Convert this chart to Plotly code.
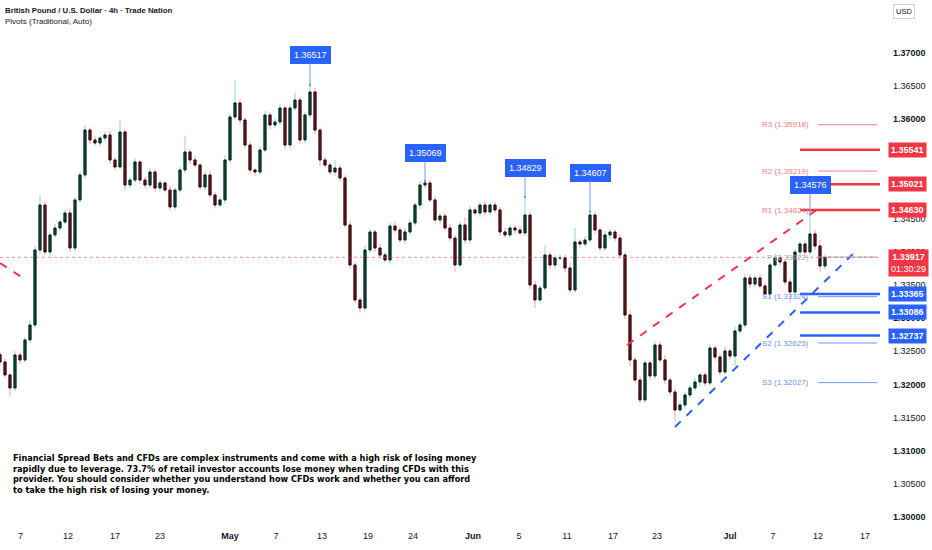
import plotly.graph_objects as go

# ---- datos (velas de 12h aprox.) ----
first_open = 1.32450
closes = [
    1.32339, 1.32143, 1.31947, 1.32444, 1.32369, 1.32671, 1.32897, 1.34028, 1.34707, 1.33998,
    1.34255, 1.34360, 1.34451, 1.34586, 1.34058, 1.34783, 1.35160, 1.35838, 1.35688, 1.35642,
    1.35718, 1.35763, 1.35386, 1.35280, 1.35808, 1.35009, 1.35084, 1.35356, 1.35084, 1.35009,
    1.35205, 1.34964, 1.35039, 1.34933, 1.34677, 1.34933, 1.35235, 1.35507, 1.35386, 1.35310,
    1.34979, 1.35160, 1.34858, 1.34707, 1.34783, 1.35386, 1.36035, 1.36246, 1.35989, 1.35612,
    1.35235, 1.35205, 1.35537, 1.36065, 1.35914, 1.35959, 1.36170, 1.35612, 1.36170, 1.36291,
    1.35688, 1.36065, 1.36412, 1.35838, 1.35386, 1.35310, 1.35205, 1.35265, 1.35114, 1.34405,
    1.33802, 1.33274, 1.33153, 1.34028, 1.34300, 1.34058, 1.33953, 1.33877, 1.34390, 1.34330,
    1.34179, 1.34300, 1.34436, 1.34707, 1.35009, 1.35039, 1.34783, 1.34481, 1.34541, 1.34360,
    1.34209, 1.33802, 1.34405, 1.34179, 1.34632, 1.34586, 1.34707, 1.34601, 1.34707, 1.34632,
    1.34300, 1.34255, 1.34360, 1.34330, 1.34285, 1.34556, 1.33500, 1.33274, 1.33455, 1.33953,
    1.33802, 1.33908, 1.33908, 1.33757, 1.33425, 1.34149, 1.34119, 1.34179, 1.34556, 1.34330,
    1.34058, 1.34255, 1.34300, 1.34209, 1.33953, 1.33048, 1.32369, 1.32067, 1.31766, 1.32324,
    1.32128, 1.32595, 1.32369, 1.32067, 1.31886, 1.31615, 1.31690, 1.31841, 1.31947, 1.32037,
    1.32143, 1.32022, 1.32550, 1.32414, 1.32188, 1.32505, 1.32429, 1.32806, 1.32897, 1.33606,
    1.33515, 1.33606, 1.33485, 1.33365, 1.33802, 1.33908, 1.33847, 1.33546, 1.33395, 1.33998,
    1.34119, 1.33998, 1.34270, 1.34089, 1.33787, 1.33917,
]
# mechas en pips por encima / por debajo del cuerpo
wick_up = [
    4, 5, 3, 6, 4, 5, 7, 6, 15, 5,
    4, 6, 3, 5, 7, 4, 5, 7, 4, 6,
    3, 5, 6, 4, 18, 5, 4, 6, 3, 5,
    6, 4, 5, 3, 6, 4, 5, 25, 4, 6,
    3, 5, 6, 4, 5, 7, 5, 35, 6, 4,
    5, 3, 6, 6, 4, 5, 7, 4, 6, 11,
    5, 4, 10.5, 6, 4, 5, 3, 12, 5, 4,
    6, 5, 4, 6, 5, 3, 6, 4, 5, 7,
    4, 6, 5, 4, 6, 3, 5, 6, 4, 5,
    6, 4, 5, 12, 6, 4, 5, 6, 3, 5,
    4, 6, 5, 4, 6, 27.3, 5, 6, 4, 15,
    5, 4, 6, 5, 8, 21, 4, 6, 5.1, 5,
    4, 6, 5, 4, 6, 5, 8, 4, 6, 5,
    4, 6, 5, 7, 4, 5, 6, 4, 5, 6,
    4, 5, 6, 4, 5, 6, 4, 7, 5, 6,
    5, 4, 6, 5, 4, 6, 5, 4, 6, 5,
    4, 6, 30.6, 7, 9, 4,
]
wick_dn = [
    5, 4, 13, 5, 6, 4, 5, 4, 6, 5,
    6, 4, 5, 4, 6, 5, 4, 5, 6, 4,
    5, 4, 6, 5, 4, 8, 5, 4, 6, 5,
    4, 6, 5, 4, 6, 5, 4, 5, 6, 4,
    5, 6, 4, 5, 4, 6, 5, 4, 6, 5,
    4, 6, 5, 4, 6, 5, 4, 6, 5, 4,
    6, 5, 4, 6, 9, 5, 4, 6, 5, 4,
    6, 5, 7, 5, 4, 6, 5, 4, 6, 5,
    4, 6, 5, 4, 6, 5, 4, 5, 6, 4,
    5, 10, 4, 6, 5, 4, 6, 5, 4, 5,
    6, 4, 5, 6, 4, 5, 6, 12, 5, 4,
    6, 5, 4, 6, 5, 4, 6, 5, 4, 6,
    5, 4, 6, 5, 4, 6, 9, 5, 5, 4,
    6, 5, 4, 6, 5, 17, 4, 6, 5, 4,
    6, 5, 4, 6, 5, 4, 6, 15, 5, 4,
    6, 5, 4, 6, 5, 4, 6, 5, 17, 4,
    6, 5, 4, 6, 9, 5,
]

# etiquetas de maximos (indice de vela)
callout_idx = [62, 85, 105, 118, 162]
callout_lift = [22, 20, 21, 31, 21]

# pivotes
pivot_names = ["R3", "R2", "R1", "P", "S1", "S2", "S3"]
pivot_vals = [1.35918, 1.35219, 1.34624, 1.33922, 1.33324, 1.32625, 1.32027]

# niveles horizontales gruesos
res_levels = [1.35541, 1.35021, 1.34630]
sup_levels = [1.33365, 1.33086, 1.32737]
last_price = 1.33917
countdown = "01:30:29"

# lineas de tendencia (indice, precio)
red_trend_x = [125.4, 163.6]
red_trend_y = [1.32595, 1.34647]
red_old_x = [0, 4.6]
red_old_y = [1.33832, 1.33606]
blue_trend_x = [135, 170.8]
blue_trend_y = [1.31358, 1.33983]

# eje de tiempo
tick_pos = [4.1, 13.6, 23, 32, 46, 55.2, 64.4, 73.6, 82.6, 94.6,
            103.8, 113.4, 122.6, 131.4, 146, 154.6, 163.6, 173]
tick_txt = ["7", "12", "17", "23", "<b>May</b>", "7", "13", "19", "24", "<b>Jun</b>",
            "5", "11", "17", "23", "<b>Jul</b>", "7", "12", "17"]

disclaimer = ("Financial Spread Bets and CFDs are complex instruments and come with a high risk of losing money<br>"
              "rapidly due to leverage. 73.7% of retail investor accounts lose money when trading CFDs with this<br>"
              "provider. You should consider whether you understand how CFDs work and whether you can afford<br>"
              "to take the high risk of losing your money.")

# ---- procesar ----
n = len(closes)
idx = list(range(n))
opens = [first_open] + closes[:-1]
tops = [max(o, c) for o, c in zip(opens, closes)]
bots = [min(o, c) for o, c in zip(opens, closes)]
highs = [t + w * 0.0001 for t, w in zip(tops, wick_up)]
lows = [b - w * 0.0001 for b, w in zip(bots, wick_dn)]

RED = "#f23645"
BLUE = "#2962ff"
FONT = "Liberation Sans"
W_PLOT = 880.0
H_PLOT = 522.0

fig = go.Figure()

# mechas claras
fig.add_trace(go.Candlestick(
    x=idx, open=opens, high=highs, low=lows, close=closes,
    increasing=dict(line=dict(color="#8fd6c9", width=1), fillcolor="#8fd6c9"),
    decreasing=dict(line=dict(color="#f6a3aa", width=1), fillcolor="#f6a3aa"),
    whiskerwidth=0, hoverinfo="skip", showlegend=False))
# cuerpos oscuros
fig.add_trace(go.Candlestick(
    x=idx, open=opens, high=tops, low=bots, close=closes,
    increasing=dict(line=dict(color="#0a221d", width=1), fillcolor="#0f4a3e"),
    decreasing=dict(line=dict(color="#250a0c", width=1), fillcolor="#6e1a22"),
    whiskerwidth=0, hoverinfo="skip", showlegend=False))

# lineas de tendencia
for xs, ys, col in [(red_trend_x, red_trend_y, RED), (red_old_x, red_old_y, RED),
                    (blue_trend_x, blue_trend_y, BLUE)]:
    fig.add_trace(go.Scatter(x=xs, y=ys, mode="lines", hoverinfo="skip", showlegend=False,
                             line=dict(color=col, width=2, dash="8px,8px")))

# pivotes
for name, v in zip(pivot_names, pivot_vals):
    col = "#f77c85" if name.startswith("R") else ("#a9acb3" if name == "P" else "#6b95f5")
    fig.add_trace(go.Scatter(x=[163.6, 175.4], y=[v, v], mode="lines", hoverinfo="skip",
                             showlegend=False, line=dict(color=col, width=1)))
    fig.add_annotation(x=162.2, y=v, xref="x", yref="y", text=f"{name} ({v:.5f})",
                       showarrow=False, xanchor="right", yanchor="middle",
                       font=dict(family=FONT, size=8, color=col))

# niveles gruesos
for v in res_levels:
    fig.add_trace(go.Scatter(x=[160, 176], y=[v, v], mode="lines", hoverinfo="skip",
                             showlegend=False, line=dict(color=RED, width=2.5)))
for v in sup_levels:
    fig.add_trace(go.Scatter(x=[160, 176], y=[v, v], mode="lines", hoverinfo="skip",
                             showlegend=False, line=dict(color=BLUE, width=2.5)))

# linea de precio actual
fig.add_shape(type="line", xref="paper", yref="y", x0=0, x1=1, y0=last_price, y1=last_price,
              line=dict(color=RED, width=1, dash="dot"), opacity=0.55)

# etiquetas de maximos
for i, lift in zip(callout_idx, callout_lift):
    fig.add_annotation(x=i, y=highs[i], xref="x", yref="y", text=f"{highs[i]:.5f}",
                       showarrow=True, arrowhead=6, arrowsize=0.6, arrowwidth=1,
                       arrowcolor="#6f9cf7", ax=0, ay=-lift - 8, standoff=0,
                       bgcolor=BLUE, bordercolor=BLUE, borderpad=3,
                       font=dict(family=FONT, size=9, color="white"))

# etiquetas de precio en el eje
xl = 888 / W_PLOT
for v in res_levels:
    fig.add_annotation(x=xl, y=v, xref="paper", yref="y", text=f"<b>{v:.5f}</b>",
                       showarrow=False, xanchor="left", yanchor="middle",
                       bgcolor=RED, borderpad=2, font=dict(family=FONT, size=9, color="white"))
for v in sup_levels:
    fig.add_annotation(x=xl, y=v, xref="paper", yref="y", text=f"<b>{v:.5f}</b>",
                       showarrow=False, xanchor="left", yanchor="middle",
                       bgcolor=BLUE, borderpad=2, font=dict(family=FONT, size=9, color="white"))
fig.add_annotation(x=xl, y=last_price, xref="paper", yref="y",
                   text=f"<b>{last_price:.5f}</b><br>{countdown}",
                   showarrow=False, xanchor="left", yanchor="top", yshift=8,
                   bgcolor=RED, borderpad=2, font=dict(family=FONT, size=9, color="white"))

# titulo
fig.add_annotation(x=3 / W_PLOT, y=1 - 10 / H_PLOT, xref="paper", yref="paper",
                   text="<b>British Pound / U.S. Dollar · 4h · Trade Nation</b>",
                   showarrow=False, xanchor="left", yanchor="middle",
                   font=dict(family=FONT, size=7.8, color="#131722"))
fig.add_annotation(x=3 / W_PLOT, y=1 - 21 / H_PLOT, xref="paper", yref="paper",
                   text="Pivots (Traditional, Auto)",
                   showarrow=False, xanchor="left", yanchor="middle",
                   font=dict(family=FONT, size=8, color="#131722"))
fig.add_annotation(x=893 / W_PLOT, y=1 - 12 / H_PLOT, xref="paper", yref="paper",
                   text="USD", showarrow=False, xanchor="left", yanchor="middle",
                   bordercolor="#d1d4dc", borderwidth=1, borderpad=2,
                   font=dict(family=FONT, size=7.5, color="#131722"))

# aviso
fig.add_annotation(x=11 / W_PLOT, y=1 - 451 / H_PLOT, xref="paper", yref="paper",
                   text=f"<b>{disclaimer}</b>", align="left",
                   showarrow=False, xanchor="left", yanchor="top",
                   font=dict(family="DejaVu Sans", size=8.2, color="#000000"))

ytick_vals = [1.300 + 0.005 * k for k in range(15)]
ytick_txt = [(f"<b>{v:.5f}</b>" if k % 2 == 0 else f"{v:.5f}") for k, v in enumerate(ytick_vals)]

fig.update_layout(
    width=932, height=550,
    margin=dict(l=0, r=52, t=0, b=28),
    paper_bgcolor="white", plot_bgcolor="white",
    showlegend=False, hovermode=False, boxgap=0.4,
    xaxis=dict(range=[0, 176], rangeslider=dict(visible=False), showgrid=False, zeroline=False,
               tickmode="array", tickvals=tick_pos, ticktext=tick_txt, ticks="",
               ticklabelstandoff=7,
               tickfont=dict(family=FONT, size=9, color="#131722")),
    yaxis=dict(range=[1.30 - 5 / 6629, 1.37 + 53 / 6629], side="right", showgrid=False,
               zeroline=False, tickmode="array", tickvals=ytick_vals, ticktext=ytick_txt,
               ticks="", ticklabelstandoff=12,
               tickfont=dict(family=FONT, size=9, color="#131722")),
)

fig.write_html("out.html", config={"displayModeBar": False},
               post_script="document.body.style.margin='0';")
